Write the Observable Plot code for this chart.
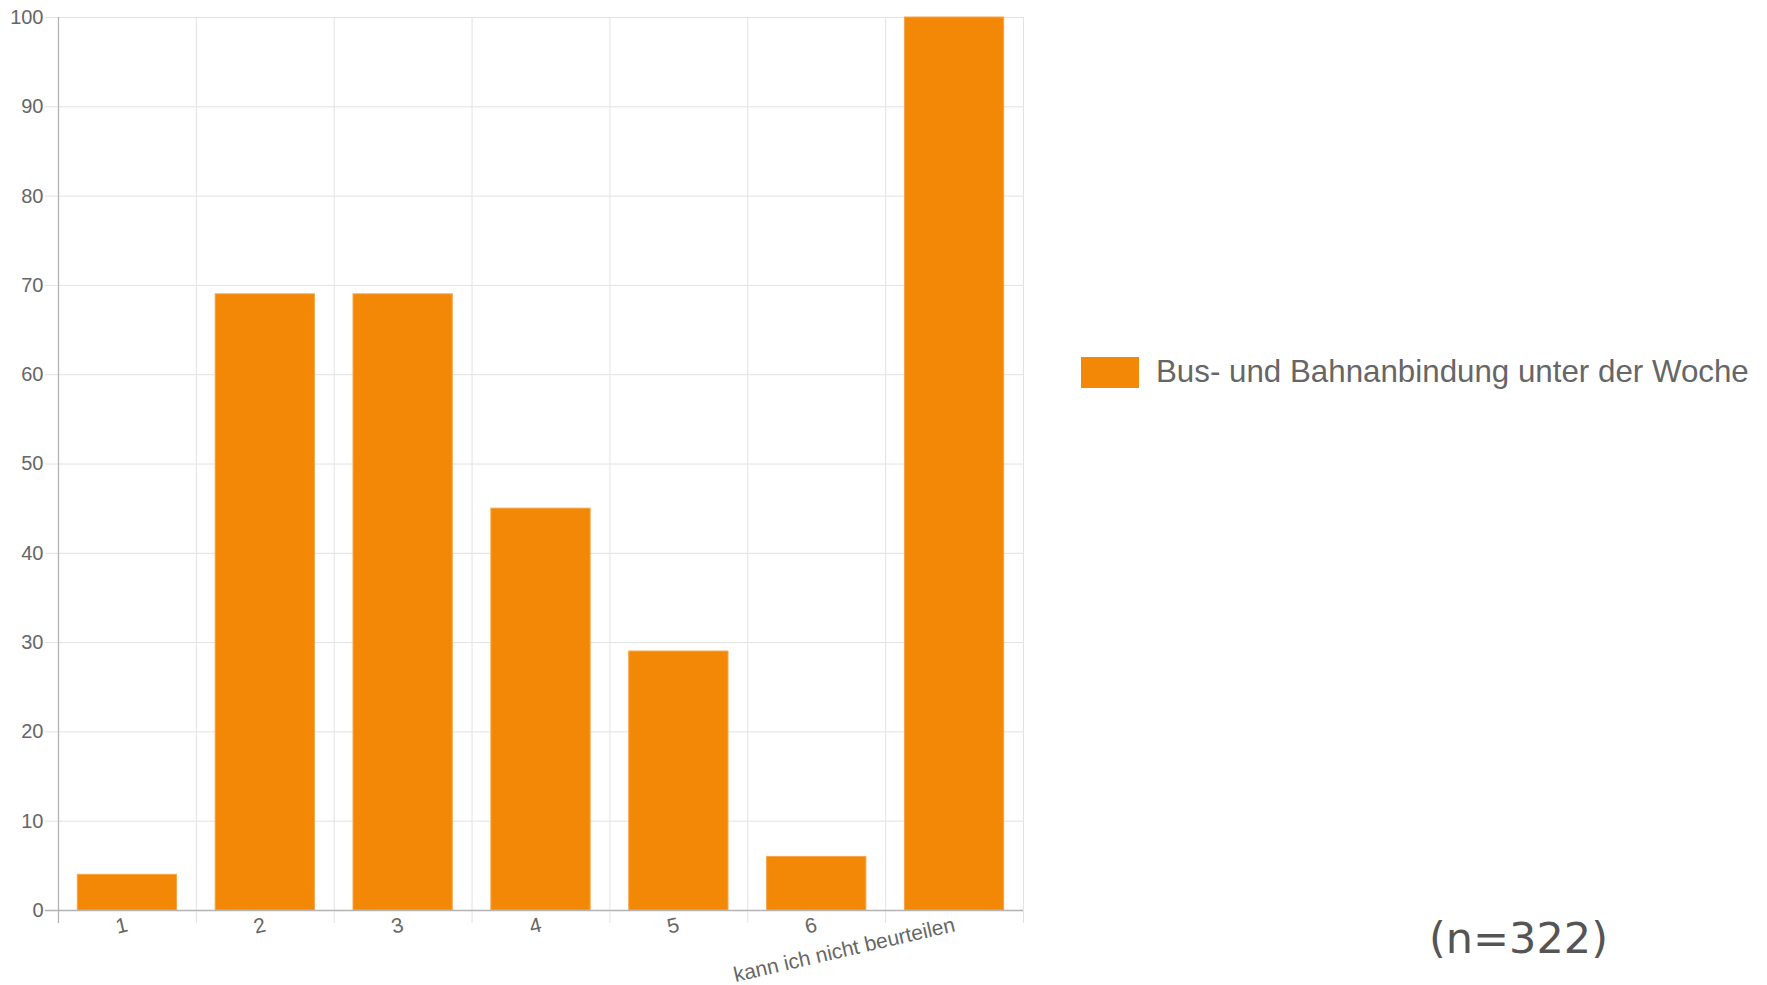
<!DOCTYPE html>
<html>
<head>
<meta charset="utf-8">
<script src="https://cdn.jsdelivr.net/npm/d3@7"></script>
<script src="https://cdn.jsdelivr.net/npm/@observablehq/plot@0.6"></script>
<style>
  html, body { margin: 0; padding: 0; background: #fff; }
  #wrap { position: relative; width: 1767px; height: 985px; overflow: hidden; }
  #legend { position: absolute; left: 1081px; top: 354px; display: flex; align-items: center;
    font-family: "Liberation Sans", Arial, sans-serif; font-size: 31.3px; color: #666; }
  #legend .sw { width: 58px; height: 31px; margin-right: 17px; }
  #nlabel { position: absolute; left: 1429px; top: 910px; font-family: "DejaVu Sans", sans-serif;
    font-size: 43px; color: #555; line-height: 56px; }
</style>
</head>
<body>
<div id="wrap"></div>
<script>
const categories = ["1", "2", "3", "4", "5", "6", "kann ich nicht beurteilen"];
const values = [4, 69, 69, 45, 29, 6, 100];
const yTicks = [0, 10, 20, 30, 40, 50, 60, 70, 80, 90, 100];
const seriesLabel = "Bus- und Bahnanbindung unter der Woche";
const nLabel = "(n=322)";
const barColor = "#F28806";

const data = categories.map((c, i) => ({category: c, value: values[i]}));

const W = 1767, H = 985, mL = 58, mR = 744, mT = 17, mB = 75;
const step = (W - mL - mR) / categories.length;

const chart = Plot.plot({
  width: W, height: H,
  marginLeft: mL, marginRight: mR, marginTop: mT, marginBottom: mB,
  style: {fontFamily: "'Liberation Sans', Arial, sans-serif", fontSize: "20px", color: "#666", background: "#fff"},
  x: {domain: categories, paddingInner: 0.28, paddingOuter: 0.14, round: false, label: null},
  y: {domain: [0, 100], label: null},
  marks: [
    Plot.ruleY(yTicks.slice(1), {y: d => d, stroke: "#e2e2e2", strokeWidth: 1, insetLeft: -13}),
    Plot.ruleX(categories.slice(1), {x: d => d, dx: -step / 2, stroke: "#e2e2e2", strokeWidth: 1, insetBottom: -13}),
    Plot.ruleX(categories.slice(-1), {x: d => d, dx: step / 2, stroke: "#e2e2e2", strokeWidth: 1, insetBottom: -13}),
    Plot.barY(data, {x: "category", y: "value", fill: barColor, stroke: "#f6a548", strokeWidth: 1}),
    Plot.ruleX(categories.slice(0, 1), {x: d => d, dx: -step / 2, stroke: "#b3b3b3", strokeWidth: 1.3, insetBottom: -13}),
    Plot.ruleY([0], {stroke: "#b3b3b3", strokeWidth: 1.3, insetLeft: -13}),
    Plot.axisY({ticks: yTicks, tickSize: 0, tickPadding: 15, fontSize: 20, label: null}),
    Plot.axisX({tickSize: 0, tickRotate: -13, tickPadding: 14, fontSize: 21, label: null})
  ]
});

const wrap = document.getElementById("wrap");
wrap.appendChild(chart);

const legend = document.createElement("div");
legend.id = "legend";
legend.innerHTML = `<div class="sw" style="background:${barColor}"></div><span>${seriesLabel}</span>`;
wrap.appendChild(legend);

const n = document.createElement("div");
n.id = "nlabel";
n.textContent = nLabel;
wrap.appendChild(n);
</script>
</body>
</html>
